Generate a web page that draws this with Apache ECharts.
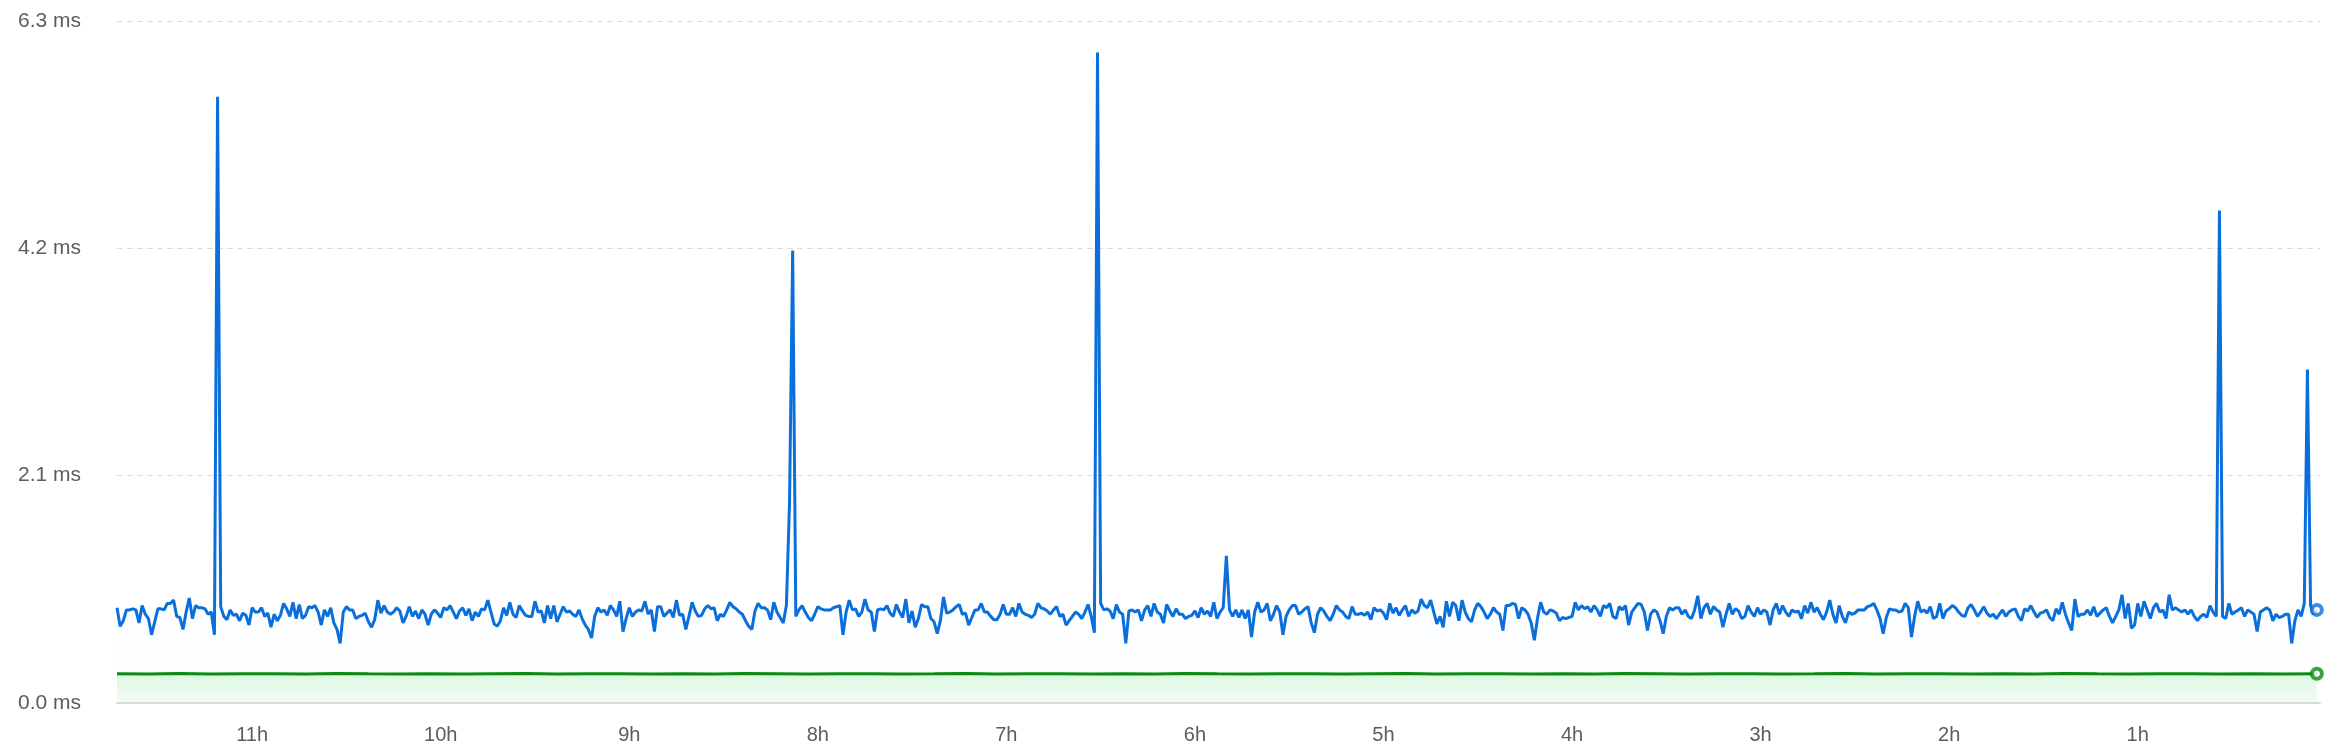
<!DOCTYPE html>
<html>
<head>
<meta charset="utf-8">
<script src="https://cdn.jsdelivr.net/npm/echarts@6/dist/echarts.min.js"></script>
<style>
html,body{margin:0;padding:0;background:#fff;}
#chart{width:2336px;height:756px;}
</style>
</head>
<body>
<div id="chart"></div>
<script>
// Hours-ago tick labels
const hourTicks = [11, 10, 9, 8, 7, 6, 5, 4, 3, 2, 1];
// Y axis ticks (ms)
const yTicks = [0.0, 2.1, 4.2, 6.3];
// Blue series: one sample per minute, starting 703 minutes ago, ending 3 minutes ago
const firstMinuteAgo = 703;
const blueMs = [
0.88,0.71,0.76,0.86,0.86,0.87,0.86,0.74,0.90,0.82,0.78,0.63,0.75,0.87,0.87,0.86,0.92,0.92,0.95,0.80,0.79,0.68,0.84,0.97,0.78,
0.90,0.88,0.88,0.87,0.82,0.84,0.63,5.60,0.89,0.80,0.77,0.86,0.81,0.82,0.76,0.83,0.81,0.72,0.88,0.84,0.84,0.88,0.80,0.83,0.70,
0.82,0.76,0.81,0.92,0.87,0.80,0.93,0.78,0.91,0.78,0.81,0.89,0.88,0.90,0.84,0.72,0.86,0.80,0.88,0.74,0.68,0.55,0.84,0.89,0.86,
0.86,0.78,0.80,0.81,0.83,0.75,0.70,0.77,0.95,0.83,0.90,0.84,0.82,0.84,0.88,0.85,0.74,0.80,0.89,0.80,0.85,0.78,0.86,0.82,0.72,
0.82,0.86,0.83,0.79,0.88,0.86,0.90,0.84,0.78,0.85,0.88,0.81,0.87,0.76,0.84,0.80,0.87,0.86,0.95,0.84,0.73,0.71,0.76,0.88,0.81,
0.93,0.82,0.79,0.90,0.85,0.81,0.80,0.80,0.94,0.84,0.85,0.74,0.90,0.78,0.90,0.75,0.82,0.89,0.84,0.85,0.82,0.80,0.86,0.78,0.72,
0.68,0.60,0.80,0.88,0.84,0.86,0.81,0.90,0.86,0.80,0.94,0.66,0.78,0.88,0.80,0.84,0.86,0.85,0.94,0.82,0.86,0.66,0.89,0.89,0.80,
0.83,0.86,0.79,0.95,0.81,0.82,0.68,0.80,0.93,0.85,0.80,0.81,0.87,0.90,0.87,0.88,0.76,0.82,0.80,0.86,0.93,0.89,0.87,0.84,0.82,
0.76,0.71,0.68,0.85,0.92,0.88,0.88,0.86,0.77,0.93,0.84,0.79,0.74,0.90,1.85,4.18,0.80,0.86,0.90,0.84,0.79,0.76,0.82,0.89,0.87,
0.86,0.86,0.86,0.88,0.89,0.90,0.63,0.84,0.95,0.86,0.87,0.80,0.84,0.96,0.86,0.84,0.66,0.86,0.87,0.86,0.90,0.83,0.80,0.91,0.84,
0.79,0.96,0.74,0.85,0.70,0.78,0.91,0.89,0.89,0.78,0.75,0.64,0.76,0.98,0.83,0.84,0.86,0.89,0.91,0.82,0.83,0.72,0.79,0.86,0.86,
0.92,0.84,0.84,0.80,0.77,0.77,0.82,0.91,0.82,0.82,0.88,0.80,0.92,0.84,0.82,0.81,0.79,0.82,0.92,0.88,0.87,0.85,0.82,0.86,0.89,
0.80,0.82,0.72,0.76,0.80,0.84,0.82,0.78,0.84,0.91,0.80,0.65,6.01,0.92,0.86,0.87,0.85,0.78,0.91,0.84,0.82,0.55,0.85,0.86,0.84,
0.86,0.76,0.86,0.90,0.80,0.92,0.84,0.82,0.74,0.91,0.85,0.80,0.87,0.82,0.82,0.78,0.80,0.81,0.85,0.79,0.88,0.82,0.85,0.80,0.93,
0.78,0.84,0.88,1.36,0.86,0.80,0.86,0.79,0.86,0.78,0.86,0.61,0.84,0.93,0.84,0.86,0.92,0.76,0.82,0.90,0.84,0.63,0.80,0.86,0.90,
0.90,0.82,0.84,0.87,0.89,0.74,0.65,0.82,0.88,0.85,0.80,0.76,0.82,0.90,0.86,0.84,0.80,0.78,0.89,0.82,0.82,0.83,0.81,0.84,0.77,
0.88,0.85,0.86,0.83,0.77,0.92,0.83,0.88,0.81,0.86,0.90,0.80,0.86,0.83,0.85,0.96,0.90,0.88,0.95,0.84,0.73,0.80,0.70,0.94,0.80,
0.93,0.90,0.76,0.95,0.84,0.78,0.75,0.86,0.92,0.89,0.84,0.78,0.82,0.88,0.84,0.82,0.67,0.90,0.90,0.92,0.91,0.78,0.88,0.86,0.82,
0.74,0.58,0.78,0.93,0.84,0.82,0.86,0.85,0.83,0.76,0.79,0.78,0.79,0.80,0.93,0.86,0.90,0.87,0.89,0.84,0.90,0.86,0.80,0.90,0.88,
0.92,0.80,0.78,0.89,0.86,0.90,0.72,0.84,0.88,0.92,0.91,0.84,0.67,0.82,0.86,0.84,0.76,0.64,0.80,0.88,0.86,0.88,0.88,0.82,0.86,
0.80,0.78,0.86,0.99,0.78,0.88,0.92,0.82,0.89,0.86,0.84,0.70,0.82,0.92,0.82,0.87,0.85,0.78,0.80,0.90,0.84,0.80,0.88,0.82,0.86,
0.84,0.72,0.86,0.92,0.82,0.90,0.84,0.80,0.86,0.84,0.85,0.78,0.90,0.83,0.93,0.84,0.88,0.82,0.77,0.84,0.95,0.82,0.74,0.90,0.80,
0.74,0.84,0.82,0.83,0.86,0.86,0.86,0.89,0.90,0.92,0.86,0.78,0.64,0.79,0.87,0.86,0.86,0.84,0.85,0.92,0.88,0.61,0.80,0.94,0.84,
0.86,0.83,0.89,0.78,0.80,0.92,0.78,0.85,0.87,0.90,0.88,0.84,0.81,0.80,0.88,0.91,0.86,0.80,0.84,0.89,0.83,0.80,0.82,0.78,0.82,
0.86,0.80,0.84,0.86,0.87,0.80,0.76,0.87,0.85,0.90,0.84,0.79,0.83,0.84,0.86,0.79,0.76,0.87,0.82,0.93,0.82,0.74,0.67,0.96,0.80,
0.82,0.82,0.86,0.81,0.89,0.80,0.83,0.86,0.88,0.80,0.74,0.80,0.86,1.00,0.78,0.92,0.69,0.72,0.92,0.80,0.94,0.86,0.78,0.88,0.92,
0.84,0.86,0.78,1.00,0.86,0.88,0.86,0.84,0.86,0.82,0.86,0.80,0.76,0.80,0.82,0.79,0.90,0.84,0.80,4.55,0.80,0.78,0.92,0.82,0.84,
0.86,0.88,0.80,0.86,0.84,0.82,0.66,0.84,0.86,0.88,0.86,0.76,0.82,0.79,0.80,0.82,0.82,0.55,0.76,0.86,0.80,0.92,3.08,0.90,0.82,0.86
];
// Green series: one sample every 10 minutes, from 703 to 3 minutes ago
const greenStep = 10;
const greenMs = [
0.270,0.268,0.272,0.269,0.271,0.270,0.268,0.273,0.270,0.269,0.271,0.268,0.270,0.272,0.269,0.270,0.271,0.268,0.270,0.269,
0.272,0.270,0.268,0.271,0.270,0.269,0.270,0.272,0.268,0.270,0.271,0.269,0.270,0.268,0.273,0.270,0.269,0.271,0.270,0.268,
0.270,0.272,0.269,0.270,0.271,0.268,0.270,0.269,0.272,0.270,0.268,0.271,0.270,0.269,0.270,0.272,0.268,0.270,0.271,0.269,
0.270,0.268,0.272,0.270,0.269,0.271,0.270,0.268,0.270,0.269,0.270
];

const blueData = blueMs.map((v, i) => [firstMinuteAgo - i, v]);
const greenData = greenMs.map((v, i) => [firstMinuteAgo - i * greenStep, v]);

const BLUE = '#0a6fdb';
const GREEN = '#0b8a12';
const font = "'Helvetica Neue', Helvetica, Arial, 'Liberation Sans', sans-serif";
const chart = echarts.init(document.getElementById('chart'));

chart.setOption({
  animation: false,
  backgroundColor: '#ffffff',
  grid: { left: 117, right: 16, top: 21, bottom: 53, containLabel: false },
  xAxis: {
    type: 'value',
    inverse: true,
    min: 2,
    max: 703,
    axisLine: { show: true, lineStyle: { color: '#dcdcdc', width: 2 } },
    axisTick: { show: false },
    splitLine: { show: false },
    axisLabel: {
      customValues: hourTicks.map(h => h * 60),
      formatter: v => (v / 60) + 'h',
      color: '#5c5c5c',
      fontSize: 20,
      fontFamily: font,
      margin: 22
    }
  },
  yAxis: {
    type: 'value',
    min: yTicks[0],
    max: yTicks[yTicks.length - 1],
    interval: yTicks[1] - yTicks[0],
    axisLine: { show: false },
    axisTick: { show: false },
    splitLine: { show: true, lineStyle: { color: '#dddddd', type: [6, 4], width: 1 } },
    axisLabel: {
      formatter: v => v.toFixed(1) + ' ms',
      color: '#5c5c5c',
      fontSize: 21,
      fontFamily: font,
      margin: 36
    }
  },
  series: [
    {
      name: 'blue',
      type: 'line',
      data: blueData,
      showSymbol: false,
      lineStyle: { color: BLUE, width: 3 },
      areaStyle: {
        color: new echarts.graphic.LinearGradient(0, 0, 0, 1, [
          { offset: 0, color: 'rgba(10,111,219,0.04)' },
          { offset: 1, color: 'rgba(10,111,219,0.015)' }
        ])
      },
      z: 2
    },
    {
      name: 'green',
      type: 'line',
      data: greenData,
      showSymbol: false,
      lineStyle: { color: GREEN, width: 3 },
      areaStyle: {
        color: new echarts.graphic.LinearGradient(0, 0, 0, 1, [
          { offset: 0, color: 'rgba(40,220,60,0.22)' },
          { offset: 1, color: 'rgba(40,220,60,0.06)' }
        ])
      },
      z: 3
    },
    {
      name: 'blue-last',
      type: 'scatter',
      data: [blueData[blueData.length - 1]],
      symbol: 'circle',
      symbolSize: 10,
      itemStyle: { color: '#ffffff', borderColor: BLUE, borderWidth: 4 },
      z: 4
    },
    {
      name: 'green-last',
      type: 'scatter',
      data: [greenData[greenData.length - 1]],
      symbol: 'circle',
      symbolSize: 10,
      itemStyle: { color: '#ffffff', borderColor: GREEN, borderWidth: 4 },
      z: 4
    }
  ]
});
</script>
</body>
</html>
